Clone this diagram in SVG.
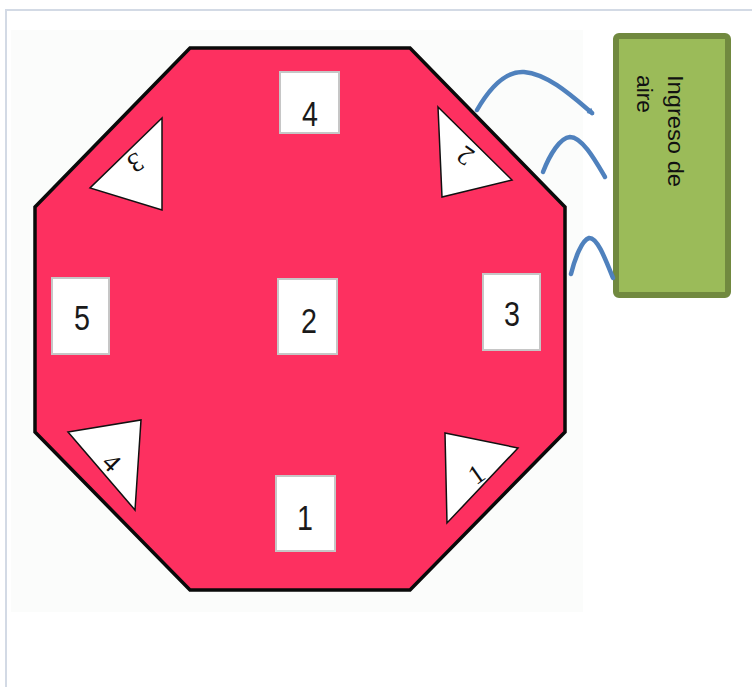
<svg xmlns="http://www.w3.org/2000/svg" width="752" height="687" viewBox="0 0 752 687">
  <style>
    .sq { fill: #ffffff; stroke: #c6c6c6; stroke-width: 2; }
    .tri { fill: #ffffff; stroke: #111111; stroke-width: 1.5; stroke-linejoin: miter; }
    .big { font-family: "Liberation Sans", Arial, sans-serif; font-size: 35px; fill: #1a1a1a; text-anchor: middle; }
    .small { font-family: "Liberation Serif", "Times New Roman", serif; font-size: 27px; fill: #111111; text-anchor: middle; }
    .lbl { font-family: "Liberation Sans", Arial, sans-serif; font-size: 22px; fill: #111111; }
    .arc { fill: none; stroke: #4f81bd; stroke-width: 4.5; stroke-linecap: round; }
  </style>
  <defs>
    <marker id="ah" markerUnits="userSpaceOnUse" markerWidth="10" markerHeight="10" refX="5" refY="5" orient="auto">
      <path d="M1,1.5 L8,5 L1,8.5 Z" fill="#4f81bd"/>
    </marker>
  </defs>

  <rect x="0" y="0" width="752" height="687" fill="#ffffff"/>
  <path d="M6,687 L6,10 L752,10" fill="none" stroke="#d3dae5" stroke-width="2"/>
  <rect x="11" y="30" width="572" height="582" fill="#fbfcfb"/>

  <g id="octagon">
    <polygon points="190,48 410,48 565,207 565,432 410,590 190,590 35,432 35,207" fill="#fd3060" stroke="#0a0a0a" stroke-width="3.5" stroke-linejoin="miter"/>
  </g>

  <g id="sq4">
    <rect class="sq" x="280" y="72" width="59" height="61"/>
    <text class="big" transform="translate(310,126) scale(0.82,1)">4</text>
  </g>
  <g id="sq2">
    <rect class="sq" x="278" y="279" width="59" height="75"/>
    <text class="big" transform="translate(309,333) scale(0.82,1)">2</text>
  </g>
  <g id="sq5">
    <rect class="sq" x="52" y="278" width="57" height="76"/>
    <text class="big" transform="translate(82,330) scale(0.82,1)">5</text>
  </g>
  <g id="sq3">
    <rect class="sq" x="483" y="274" width="57" height="76"/>
    <text class="big" transform="translate(512,326) scale(0.82,1)">3</text>
  </g>
  <g id="sq1">
    <rect class="sq" x="276" y="476" width="59" height="75"/>
    <text class="big" transform="translate(305,530) scale(0.82,1)">1</text>
  </g>

  <g id="tri3">
    <polygon class="tri" points="162,118 90,188 162,210"/>
    <text class="small" transform="translate(136,163) rotate(150)" dy="0.35em">3</text>
  </g>
  <g id="tri2">
    <polygon class="tri" points="438,107 512,180 442,197"/>
    <text class="small" transform="translate(465,156) rotate(215)" dy="0.35em">2</text>
  </g>
  <g id="tri4">
    <polygon class="tri" points="68,432 141,420 135,510"/>
    <text class="small" transform="translate(112,462) rotate(45)" dy="0.35em">4</text>
  </g>
  <g id="tri1">
    <polygon class="tri" points="445,433 518,448 447,523"/>
    <text class="small" transform="translate(476,474) rotate(-35)" dy="0.35em">1</text>
  </g>

  <g id="ingreso">
    <rect x="616" y="36" width="112" height="259" rx="3" fill="#9bbb59" stroke="#71893f" stroke-width="6"/>
    <text class="lbl" transform="translate(668,75) rotate(90)" textLength="112" lengthAdjust="spacingAndGlyphs">Ingreso de</text>
    <text class="lbl" transform="translate(637,75) rotate(90)" textLength="38" lengthAdjust="spacingAndGlyphs">aire</text>
  </g>

  <g id="connectors">
    <path class="arc" d="M477,110 C492,84 508,71 524,72 C548,74 572,96 592,113" marker-end="url(#ah)"/>
    <path class="arc" d="M543,172 C550,154 560,138 570,137 C582,137 595,160 605,177"/>
    <path class="arc" d="M571,274 C575,258 582,240 589,238 C597,237 605,258 613,278"/>
  </g>
</svg>
